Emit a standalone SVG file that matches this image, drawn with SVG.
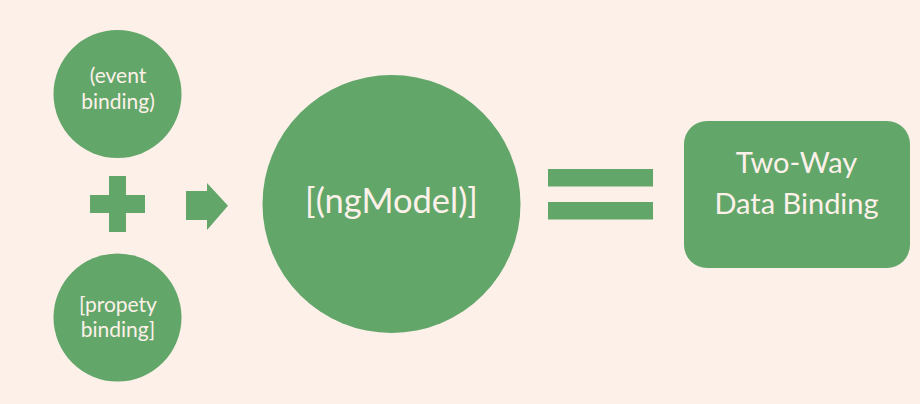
<svg xmlns="http://www.w3.org/2000/svg" width="920" height="404" viewBox="0 0 920 404">
<style>
.shape{fill:#62a66a}
.lbl{fill:#fdf1e9;font-family:Lato,"Open Sans","Liberation Sans",sans-serif;text-anchor:middle}
.s{font-size:21px}
.m{font-size:29px}
.l{font-size:34.5px}
</style>
<rect width="920" height="404" fill="#fcf0e8"/>
<g id="event-binding">
<circle class="shape" cx="117.5" cy="94" r="64"/>
<text class="lbl s" x="118" y="83">(event</text>
<text class="lbl s" x="118" y="109">binding)</text>
</g>
<g id="property-binding">
<circle class="shape" cx="117.5" cy="317.5" r="64"/>
<text class="lbl s" x="118" y="311.5">[propety</text>
<text class="lbl s" x="118" y="337">binding]</text>
</g>
<g id="ngmodel">
<circle class="shape" cx="391.5" cy="204" r="129"/>
<text class="lbl l" x="391.5" y="213">[(ngModel)]</text>
</g>
<g id="two-way">
<rect class="shape" x="684" y="121" width="226" height="147" rx="23"/>
<text class="lbl m" x="796.5" y="173">Two-Way</text>
<text class="lbl m" x="796.5" y="214">Data Binding</text>
</g>
<g id="connectors">
<path class="shape" d="M109 176H126V195H145V213H126V232H109V213H90V195H109Z"/>
<path class="shape" d="M186 191H207V183L228 205.7L207 230V220H186Z"/>
<rect class="shape" x="548" y="169" width="105" height="17.5"/>
<rect class="shape" x="548" y="202" width="105" height="17.5"/>
</g>
</svg>
